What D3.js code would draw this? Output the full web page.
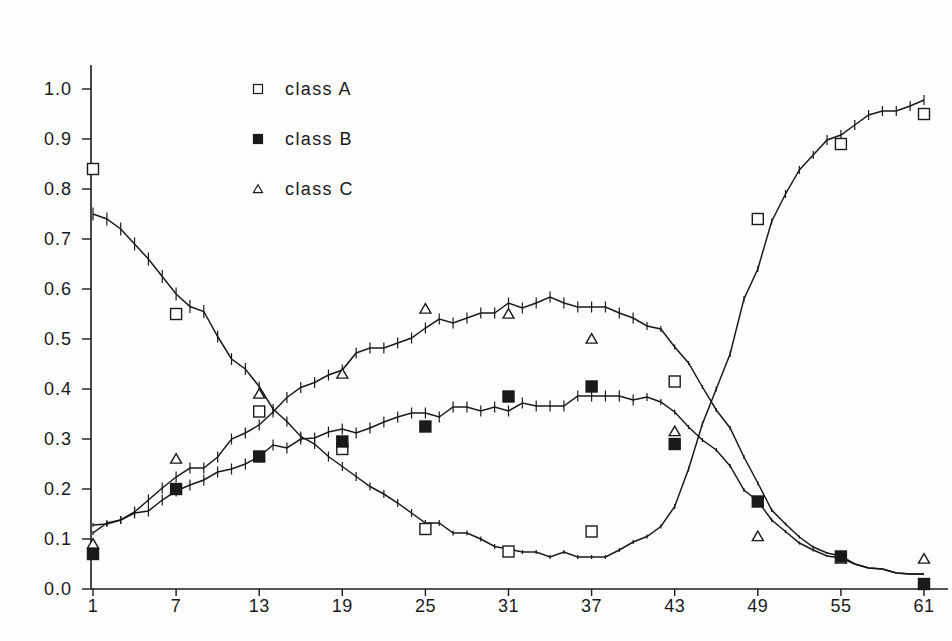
<!DOCTYPE html>
<html>
<head>
<meta charset="utf-8">
<script src="https://cdn.jsdelivr.net/npm/d3@7"></script>
<style>
  body { margin: 0; background: #fdfdfd; }
  text { font-family: "Liberation Sans", Arial, sans-serif; fill: #1a1a1a; }
</style>
</head>
<body>
<div id="chart"></div>
<script>
// x positions 1..61
const steps = d3.range(1, 62);
const xTickValues = [1, 7, 13, 19, 25, 31, 37, 43, 49, 55, 61];
const yTickValues = [0, 0.1, 0.2, 0.3, 0.4, 0.5, 0.6, 0.7, 0.8, 0.9, 1.0];

// smoothed curves, one value per step
const lineA = [0.75, 0.74, 0.72, 0.69, 0.66, 0.625, 0.59, 0.565, 0.555, 0.505,
  0.46, 0.44, 0.405, 0.36, 0.335, 0.305, 0.29, 0.265, 0.245, 0.225,
  0.205, 0.19, 0.172, 0.152, 0.132, 0.132, 0.112, 0.112, 0.1, 0.085,
  0.08, 0.074, 0.074, 0.064, 0.074, 0.064, 0.064, 0.064, 0.078, 0.094,
  0.105, 0.125, 0.165, 0.24, 0.33, 0.4, 0.47, 0.58, 0.64, 0.735,
  0.79, 0.838, 0.868, 0.898, 0.908, 0.928, 0.948, 0.956, 0.956, 0.966, 0.978];

const lineB = [0.128, 0.13, 0.138, 0.152, 0.156, 0.178, 0.196, 0.208, 0.218, 0.234,
  0.24, 0.25, 0.265, 0.288, 0.282, 0.30, 0.302, 0.314, 0.32, 0.312,
  0.322, 0.334, 0.344, 0.352, 0.352, 0.344, 0.364, 0.364, 0.356, 0.364,
  0.356, 0.372, 0.366, 0.366, 0.366, 0.386, 0.386, 0.386, 0.386, 0.378,
  0.384, 0.374, 0.354, 0.324, 0.298, 0.278, 0.246, 0.198, 0.176, 0.138,
  0.115, 0.092, 0.078, 0.066, 0.062, 0.05, 0.042, 0.04, 0.032, 0.03, 0.03];

const lineC = [0.112, 0.132, 0.138, 0.154, 0.178, 0.202, 0.224, 0.242, 0.242, 0.264,
  0.3, 0.312, 0.328, 0.354, 0.383, 0.403, 0.413, 0.428, 0.438, 0.472,
  0.482, 0.482, 0.492, 0.502, 0.522, 0.54, 0.532, 0.542, 0.552, 0.552,
  0.572, 0.562, 0.572, 0.584, 0.572, 0.564, 0.564, 0.564, 0.552, 0.542,
  0.526, 0.52, 0.484, 0.452, 0.404, 0.358, 0.322, 0.264, 0.212, 0.158,
  0.13, 0.104, 0.084, 0.072, 0.066, 0.05, 0.042, 0.04, 0.032, 0.03, 0.03];

// half length of the little error ticks on each curve
const errA = [0.013, 0.013, 0.013, 0.013, 0.013, 0.013, 0.013, 0.013, 0.013, 0.012,
  0.012, 0.012, 0.01, 0.01, 0.01, 0.01, 0.01, 0.01, 0.009, 0.009,
  0.008, 0.008, 0.008, 0.008, 0.006, 0.006, 0.005, 0.005, 0.005, 0.005,
  0.005, 0.004, 0.004, 0.004, 0.004, 0.004, 0.004, 0.004, 0.004, 0.004,
  0.004, 0.004, 0.005, 0.005, 0.005, 0.005, 0.006, 0.006, 0.006, 0.006,
  0.008, 0.008, 0.008, 0.01, 0.01, 0.01, 0.01, 0.01, 0.01, 0.01, 0.01];

const errB = [0.004, 0.006, 0.008, 0.011, 0.011, 0.011, 0.011, 0.011, 0.011, 0.011,
  0.011, 0.011, 0.011, 0.011, 0.011, 0.011, 0.011, 0.011, 0.011, 0.011,
  0.011, 0.011, 0.011, 0.011, 0.011, 0.011, 0.011, 0.011, 0.011, 0.011,
  0.011, 0.011, 0.011, 0.011, 0.011, 0.011, 0.011, 0.011, 0.011, 0.011,
  0.008, 0.006, 0.005, 0.004, 0.004, 0.004, 0.004, 0.004, 0.004, 0.004,
  0.003, 0.003, 0.003, 0.002, 0.002, 0, 0, 0, 0, 0, 0];

const errC = [0.004, 0.006, 0.008, 0.011, 0.011, 0.011, 0.011, 0.011, 0.011, 0.011,
  0.011, 0.011, 0.011, 0.011, 0.011, 0.011, 0.011, 0.011, 0.011, 0.011,
  0.011, 0.011, 0.011, 0.011, 0.011, 0.011, 0.011, 0.011, 0.011, 0.011,
  0.011, 0.011, 0.011, 0.011, 0.011, 0.011, 0.011, 0.011, 0.011, 0.011,
  0.008, 0.006, 0.005, 0.004, 0.004, 0.004, 0.004, 0.004, 0.004, 0.004,
  0.003, 0.003, 0.003, 0.002, 0.002, 0, 0, 0, 0, 0, 0];

// observed class frequencies (markers)
const markerX = [1, 7, 13, 19, 25, 31, 37, 43, 49, 55, 61];
const classA = [0.84, 0.55, 0.355, 0.28, 0.12, 0.075, 0.115, 0.415, 0.74, 0.89, 0.95];
const classB = [0.07, 0.2, 0.265, 0.295, 0.325, 0.385, 0.405, 0.29, 0.175, 0.065, 0.01];
const classC = [0.09, 0.26, 0.39, 0.43, 0.56, 0.55, 0.5, 0.315, 0.105, 0.06, 0.06];

const legendLabels = ["class A", "class B", "class C"];

const width = 952, height = 641;
const ink = "#1a1a1a";
const paper = "#fdfdfd";

const x = d3.scaleLinear().domain([1, 61]).range([93, 924]);
const y = d3.scaleLinear().domain([0, 1]).range([589, 89]);

const svg = d3.select("#chart").append("svg")
    .attr("width", width)
    .attr("height", height)
    .attr("viewBox", [0, 0, width, height]);

// axes
svg.append("line")
    .attr("x1", x(1) - 2).attr("x2", 948)
    .attr("y1", y(0)).attr("y2", y(0))
    .attr("stroke", ink).attr("stroke-width", 1.6);

svg.append("line")
    .attr("x1", x(1) - 2).attr("x2", x(1) - 2)
    .attr("y1", y(0)).attr("y2", 65)
    .attr("stroke", ink).attr("stroke-width", 1.6);

svg.append("g")
  .selectAll("line")
  .data(yTickValues)
  .join("line")
    .attr("x1", x(1) - 11).attr("x2", x(1) - 2)
    .attr("y1", d => y(d)).attr("y2", d => y(d))
    .attr("stroke", ink).attr("stroke-width", 1.4);

svg.append("g")
  .selectAll("text")
  .data(yTickValues)
  .join("text")
    .attr("x", 72)
    .attr("y", d => y(d))
    .attr("dy", "0.36em")
    .attr("text-anchor", "end")
    .style("font-size", "18px")
    .style("letter-spacing", "1px")
    .text(d => d3.format(".1f")(d));

svg.append("g")
  .selectAll("line")
  .data(xTickValues)
  .join("line")
    .attr("x1", d => x(d)).attr("x2", d => x(d))
    .attr("y1", y(0)).attr("y2", y(0) + 7)
    .attr("stroke", ink).attr("stroke-width", 1.4);

svg.append("g")
  .selectAll("text")
  .data(xTickValues)
  .join("text")
    .attr("x", d => x(d))
    .attr("y", 612)
    .attr("text-anchor", "middle")
    .style("font-size", "18px")
    .style("letter-spacing", "0.5px")
    .text(d => d);

// curves with error ticks
const line = d3.line()
    .x((d, i) => x(steps[i]))
    .y(d => y(d));

const curves = [
  { values: lineA, err: errA },
  { values: lineB, err: errB },
  { values: lineC, err: errC }
];

curves.forEach(c => {
  svg.append("path")
      .datum(c.values)
      .attr("fill", "none")
      .attr("stroke", ink)
      .attr("stroke-width", 1.5)
      .attr("d", line);

  svg.append("g")
    .selectAll("line")
    .data(c.values.map((v, i) => ({ x: steps[i], v: v, e: c.err[i] })).filter(d => d.e > 0))
    .join("line")
      .attr("x1", d => x(d.x)).attr("x2", d => x(d.x))
      .attr("y1", d => y(d.v + d.e)).attr("y2", d => y(d.v - d.e))
      .attr("stroke", ink)
      .attr("stroke-width", 1.2);
});

// markers
const sq = 11;
const triangle = d3.symbol().type(d3.symbolTriangle).size(52);

function drawSquares(values, filled) {
  svg.append("g")
    .selectAll("rect")
    .data(values)
    .join("rect")
      .attr("x", (d, i) => x(markerX[i]) - sq / 2)
      .attr("y", d => y(d) - sq / 2)
      .attr("width", sq)
      .attr("height", sq)
      .attr("fill", filled ? ink : paper)
      .attr("stroke", ink)
      .attr("stroke-width", 1.4);
}

drawSquares(classA, false);

svg.append("g")
  .selectAll("path")
  .data(classC)
  .join("path")
    .attr("transform", (d, i) => `translate(${x(markerX[i])},${y(d) + 1})`)
    .attr("d", triangle)
    .attr("fill", paper)
    .attr("stroke", ink)
    .attr("stroke-width", 1.4);

drawSquares(classB, true);

// legend
const legendRows = [1.0, 0.9, 0.8];
const lg = svg.append("g")
  .selectAll("g")
  .data(legendLabels)
  .join("g")
    .attr("transform", (d, i) => `translate(258, ${y(legendRows[i])})`);

lg.each(function(d, i) {
  const g = d3.select(this);
  if (i < 2) {
    g.append("rect")
        .attr("x", -4.5).attr("y", -4.5)
        .attr("width", 9).attr("height", 9)
        .attr("fill", i === 1 ? ink : paper)
        .attr("stroke", ink)
        .attr("stroke-width", 1.2);
  } else {
    g.append("path")
        .attr("transform", "translate(0,1)")
        .attr("d", d3.symbol().type(d3.symbolTriangle).size(36))
        .attr("fill", paper)
        .attr("stroke", ink)
        .attr("stroke-width", 1.2);
  }
});

lg.append("text")
    .attr("x", 27)
    .attr("dy", "0.36em")
    .style("font-size", "18px")
    .style("letter-spacing", "1.4px")
    .text(d => d);
</script>
</body>
</html>
